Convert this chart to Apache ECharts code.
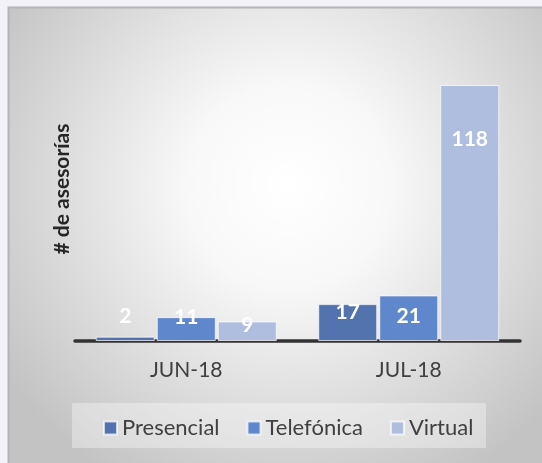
<!DOCTYPE html>
<html>
<head>
<meta charset="utf-8">
<script src="https://cdn.jsdelivr.net/npm/echarts@6/dist/echarts.min.js"></script>
<style>
html,body{margin:0;padding:0;background:#f3f2f8;}
#c{width:542px;height:463px;}
</style>
</head>
<body>
<div id="c"></div>
<script>
const categories = ['JUN-18', 'JUL-18'];
const seriesNames = ['Presencial', 'Telefónica', 'Virtual'];
const presencial = [2, 17];
const telefonica = [11, 21];
const virtual = [9, 118];

const chart = echarts.init(document.getElementById('c'));
const FONT = 'Lato';
const colors = ['#5273ad', '#5f87cb', '#afbedf'];
// label vertical shifts (rendering only)
const shifts = [[-36, -7], [-15, 5], [-12, 39]];
const values = [presencial, telefonica, virtual];

const series = values.map((vals, si) => ({
  name: seriesNames[si],
  type: 'bar',
  barWidth: 59,
  barGap: '3.4%',
  itemStyle: { color: colors[si], borderColor: 'rgba(255,255,255,0.7)', borderWidth: 1 },
  data: vals.map((v, i) => ({
    value: v,
    label: { offset: [0, shifts[si][i]] }
  })),
  label: {
    show: true,
    position: 'insideTop',
    color: '#ffffff',
    fontFamily: FONT,
    fontWeight: 'bold',
    fontSize: 21
  }
}));

chart.setOption({
  animation: false,
  backgroundColor: 'transparent',
  graphic: [
    {
      type: 'rect', z: -10,
      shape: { x: 8.5, y: 7.5, width: 560, height: 470 },
      style: {
        fill: new echarts.graphic.RadialGradient(0.5, 0.38, 0.72, [
          { offset: 0, color: '#ffffff' },
          { offset: 0.3, color: '#f8f8f8' },
          { offset: 1, color: '#c3c3c3' }
        ]),
        stroke: '#b4b4b4', lineWidth: 2
      }
    },
    {
      type: 'rect', z: -5,
      shape: { x: 72, y: 403, width: 414, height: 45 },
      style: { fill: 'rgba(255,255,255,0.35)' }
    },
    {
      type: 'text', z: 5,
      x: 62, y: 189, rotation: Math.PI / 2,
      style: {
        text: '# de asesorías',
        fill: '#262626',
        font: 'bold 21px ' + FONT,
        align: 'center',
        verticalAlign: 'middle'
      }
    }
  ],
  legend: {
    left: 98,
    top: 412,
    itemWidth: 13,
    itemHeight: 13,
    itemGap: 27,
    icon: 'rect',
    textStyle: { fontFamily: FONT, fontSize: 22, color: '#404040' },
    data: seriesNames
  },
  grid: { left: 75, right: 22, top: 85, bottom: 122, containLabel: false },
  xAxis: {
    type: 'category',
    data: categories,
    axisLine: { lineStyle: { color: '#333333', width: 3.5 } },
    axisTick: { show: false },
    axisLabel: { fontFamily: FONT, fontSize: 21, color: '#404040', margin: 19 }
  },
  yAxis: {
    type: 'value', min: 0, max: 118, show: false, splitLine: { show: false }
  },
  series: series
});
</script>
</body>
</html>
